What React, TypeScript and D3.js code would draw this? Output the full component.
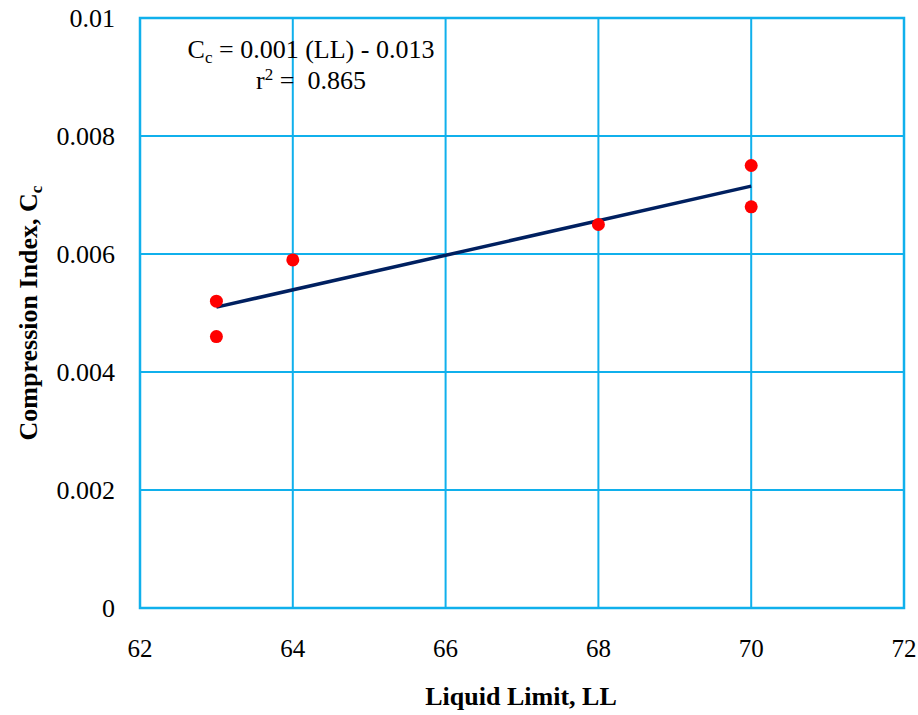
import React from 'react';
import * as d3 from 'd3';

const pointLL = [63, 63, 64, 68, 70, 70];
const pointCc = [0.0052, 0.0046, 0.0059, 0.0065, 0.0075, 0.0068];
const fitLL = [63, 70];
const fitCc = [0.0051, 0.00715];
const xTicks = [62, 64, 66, 68, 70, 72];
const yTicks = [0, 0.002, 0.004, 0.006, 0.008, 0.01];
const yTickLabels = ['0', '0.002', '0.004', '0.006', '0.008', '0.01'];

const App = () => {
    const width = 918;
    const height = 715;
    const margin = { top: 18, right: 14, bottom: 107, left: 140 };
    const font = '"Liberation Serif", "Times New Roman", serif';
    const gridColor = '#10B0EC';

    const x = d3.scaleLinear().domain([62, 72]).range([margin.left, width - margin.right]);
    const y = d3.scaleLinear().domain([0, 0.01]).range([height - margin.bottom, margin.top]);

    const points = pointLL.map((v, i) => ({ ll: v, cc: pointCc[i] }));
    const fit = fitLL.map((v, i) => ({ ll: v, cc: fitCc[i] }));
    const line = d3.line<{ ll: number; cc: number }>()
        .x(d => x(d.ll))
        .y(d => y(d.cc));

    return (
        <svg width={width} height={height} style={{ position: 'absolute', left: 0, top: 0 }} fontFamily={font}>
            <rect x={0} y={0} width={width} height={height} fill="#fff" />

            {xTicks.map(t => (
                <line key={`gx-${t}`} x1={x(t)} x2={x(t)} y1={y(0)} y2={y(0.01)} stroke={gridColor} strokeWidth={2} />
            ))}
            {yTicks.map(t => (
                <line key={`gy-${t}`} x1={x(62)} x2={x(72)} y1={y(t)} y2={y(t)} stroke={gridColor} strokeWidth={2} />
            ))}
            <rect x={x(62)} y={y(0.01)} width={x(72) - x(62)} height={y(0) - y(0.01)} fill="none" stroke={gridColor} strokeWidth={2.5} />

            {yTicks.map((t, i) => (
                <text key={`yl-${t}`} x={115} y={y(t)} dy="0.35em" textAnchor="end" fontSize={26} fill="#000">
                    {yTickLabels[i]}
                </text>
            ))}
            {xTicks.map(t => (
                <text key={`xl-${t}`} x={x(t)} y={657} textAnchor="middle" fontSize={25} fill="#000">
                    {t}
                </text>
            ))}

            <path d={line(fit) || ''} fill="none" stroke="#002060" strokeWidth={3.5} />

            {points.map((d, i) => (
                <circle key={`pt-${i}`} cx={x(d.ll)} cy={y(d.cc)} r={6.5} fill="#FF0000" />
            ))}

            <text x={311} y={58} textAnchor="middle" fontSize={26} fill="#000">
                C<tspan fontSize={17} dy={5}>c</tspan><tspan dy={-5}> = 0.001 (LL) - 0.013</tspan>
            </text>
            <text x={311} y={89} textAnchor="middle" fontSize={26} fill="#000" style={{ whiteSpace: 'pre' }}>
                r<tspan fontSize={17} dy={-9}>2</tspan><tspan dy={9}>{' =  0.865'}</tspan>
            </text>

            <text x={521} y={705} textAnchor="middle" fontSize={26} fontWeight="bold" fill="#000">
                Liquid Limit, LL
            </text>
            <text transform={`translate(37, ${(y(0) + y(0.01)) / 2}) rotate(-90)`} textAnchor="middle" fontSize={26} fontWeight="bold" fill="#000">
                Compression Index, C<tspan fontSize={17} dy={5}>c</tspan>
            </text>
        </svg>
    );
};

export default App;
